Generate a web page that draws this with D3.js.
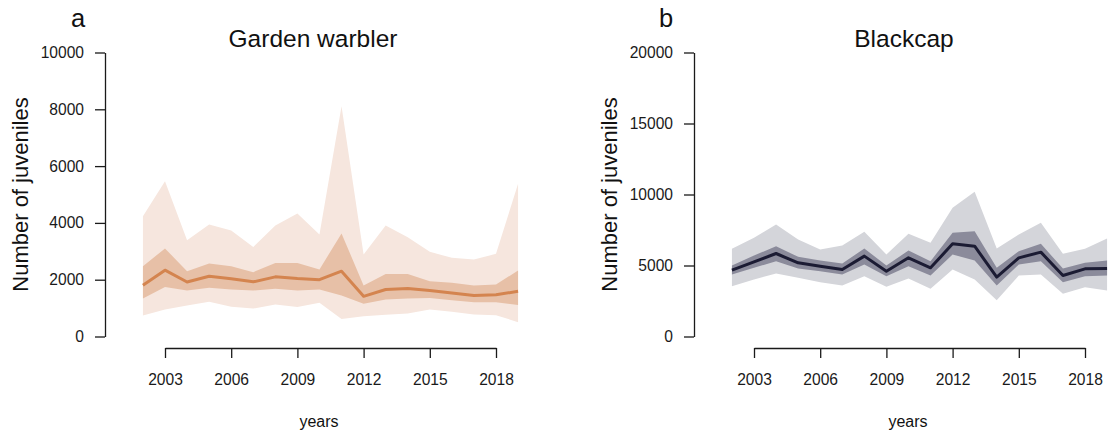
<!DOCTYPE html>
<html>
<head>
<meta charset="utf-8">
<script src="https://cdn.jsdelivr.net/npm/d3@7"></script>
<style>
  html, body { margin: 0; padding: 0; background: #fff; }
  svg { display: block; font-family: "Liberation Sans", Arial, Helvetica, sans-serif; }
</style>
</head>
<body>
<svg id="chart" width="1109" height="434"></svg>
<script>
// ---- Data ----
const years = [2002, 2003, 2004, 2005, 2006, 2007, 2008, 2009, 2010, 2011, 2012, 2013, 2014, 2015, 2016, 2017, 2018, 2019];
const xTickYears = [2003, 2006, 2009, 2012, 2015, 2018];

// Garden warbler
const gwMedian   = [1805, 2335, 1920, 2120, 2030, 1925, 2100, 2040, 2000, 2300, 1415, 1655, 1690, 1620, 1535, 1445, 1470, 1590];
const gwInnerHi  = [2475, 3100, 2300, 2570, 2475, 2265, 2590, 2590, 2360, 3630, 1795, 2205, 2205, 1945, 1890, 1795, 1830, 2325];
const gwInnerLo  = [1340, 1740, 1620, 1715, 1655, 1620, 1680, 1620, 1655, 1445, 1150, 1300, 1340, 1360, 1280, 1210, 1210, 1105];
const gwOuterHi  = [4235, 5470, 3390, 3945, 3730, 3155, 3910, 4330, 3590, 8110, 2885, 3910, 3495, 2980, 2770, 2710, 2910, 5375];
const gwOuterLo  = [740, 950, 1090, 1220, 1045, 985, 1125, 1035, 1185, 620, 715, 765, 810, 950, 870, 775, 750, 505];
const gwYTicks   = [0, 2000, 4000, 6000, 8000, 10000];

// Blackcap
const bcMedian   = [4670, 5260, 5845, 5190, 4950, 4720, 5660, 4600, 5540, 4835, 6525, 6360, 4180, 5540, 5940, 4295, 4765, 4790];
const bcInnerHi  = [5000, 5700, 6360, 5610, 5350, 5140, 6195, 5000, 6055, 5305, 7300, 7420, 4835, 6010, 6525, 4790, 5190, 5350];
const bcInnerLo  = [4365, 4835, 5305, 4790, 4600, 4365, 5070, 4250, 4955, 4295, 5775, 5350, 3590, 5070, 5305, 3825, 4250, 4295];
const bcOuterHi  = [6175, 6950, 7885, 6830, 6125, 6410, 7370, 5775, 7230, 6595, 9060, 10190, 6195, 7185, 8005, 5820, 6175, 6900];
const bcOuterLo  = [3545, 4015, 4435, 4130, 3825, 3590, 4250, 3500, 4085, 3355, 4720, 4015, 2560, 4295, 4365, 3005, 3475, 3240];
const bcYTicks   = [0, 5000, 10000, 15000, 20000];

// ---- Drawing ----
const svg = d3.select("#chart");

function panel(opt) {
  const g = svg.append("g");
  const x = d3.scaleLinear().domain([2003, 2018]).range([opt.x0 + 60, opt.x0 + 391]);
  const y = d3.scaleLinear().domain([0, opt.ymax]).range([336.5, 52.5]);

  const rows = years.map((yr, i) => ({
    yr, med: opt.med[i], ih: opt.ih[i], il: opt.il[i], oh: opt.oh[i], ol: opt.ol[i]
  }));

  const areaOuter = d3.area().x(d => x(d.yr)).y0(d => y(d.ol)).y1(d => y(d.oh));
  const areaInner = d3.area().x(d => x(d.yr)).y0(d => y(d.il)).y1(d => y(d.ih));
  const line = d3.line().x(d => x(d.yr)).y(d => y(d.med));

  g.append("path").datum(rows).attr("d", areaOuter).attr("fill", opt.cOuter);
  g.append("path").datum(rows).attr("d", areaInner).attr("fill", opt.cInner);
  g.append("path").datum(rows).attr("d", line).attr("fill", "none")
    .attr("stroke", opt.cLine).attr("stroke-width", 3).attr("stroke-linejoin", "round");

  // y axis
  const ya = g.append("g").attr("transform", `translate(${opt.x0},0)`)
    .call(d3.axisLeft(y).tickValues(opt.yTicks).tickSize(10).tickSizeOuter(0).tickPadding(11).tickFormat(d3.format("d")));
  // x axis
  const xa = g.append("g").attr("transform", "translate(0,348)")
    .call(d3.axisBottom(x).tickValues(xTickYears).tickSize(10).tickSizeOuter(0).tickPadding(16).tickFormat(d3.format("d")));
  [ya, xa].forEach(a => {
    a.selectAll("path, line").attr("stroke", "#1a1a1a").attr("stroke-width", 1.3);
    a.selectAll("text").attr("font-size", 15.6).attr("fill", "#1a1a1a")
      .attr("font-family", '"Liberation Sans", Arial, Helvetica, sans-serif');
  });

  // titles
  g.append("text").attr("x", opt.titleX).attr("y", 46.5).attr("text-anchor", "middle")
    .attr("font-size", 24.5).attr("fill", "#111").text(opt.title);
  g.append("text").attr("x", opt.letterX).attr("y", 26.5).attr("text-anchor", "middle")
    .attr("font-size", 25.5).attr("fill", "#111").text(opt.letter);
  g.append("text").attr("transform", `translate(${opt.x0 - 77},${(52.5 + 336.5) / 2}) rotate(-90)`)
    .attr("text-anchor", "middle").attr("font-size", 22).attr("fill", "#111").text("Number of juveniles");
  g.append("text").attr("x", opt.x0 + 214).attr("y", 421.7).attr("dy", "0.35em").attr("text-anchor", "middle")
    .attr("font-size", 16).attr("fill", "#111").text("years");
}

panel({
  x0: 105, ymax: 10000, yTicks: gwYTicks,
  med: gwMedian, ih: gwInnerHi, il: gwInnerLo, oh: gwOuterHi, ol: gwOuterLo,
  cOuter: "#f6e6de", cInner: "#e7c0a7", cLine: "#d4844f",
  title: "Garden warbler", titleX: 313, letter: "a", letterX: 78
});
panel({
  x0: 694, ymax: 20000, yTicks: bcYTicks,
  med: bcMedian, ih: bcInnerHi, il: bcInnerLo, oh: bcOuterHi, ol: bcOuterLo,
  cOuter: "#d4d5da", cInner: "#8b8b9b", cLine: "#1b1b33",
  title: "Blackcap", titleX: 904, letter: "b", letterX: 666
});
</script>
</body>
</html>
